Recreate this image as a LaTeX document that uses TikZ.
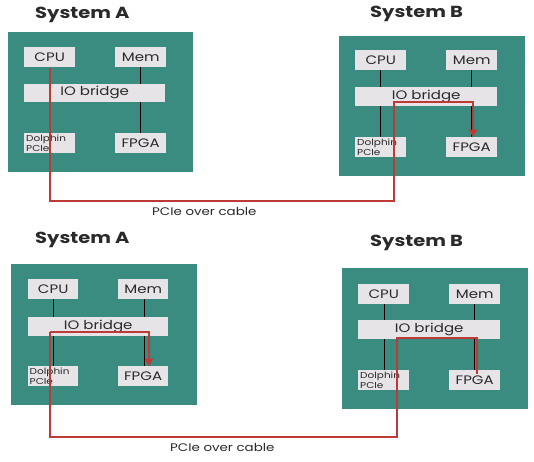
\documentclass[tikz,border=0pt]{standalone}
\usepackage{fontspec}
\setmainfont{Poppins}[FakeStretch=1.22]
\usetikzlibrary{arrows.meta}
\definecolor{sysgreen}{HTML}{3A8C80}
\definecolor{boxgray}{HTML}{E6E4E6}
\definecolor{cablered}{HTML}{BE3A36}
\definecolor{txt}{HTML}{2A2A2A}
\tikzset{
  sysbox/.style={fill=sysgreen, draw=none, inner sep=0pt, anchor=north west, minimum width=#1},
  sysbox/.default=185pt,
  part/.style={fill=boxgray, draw=none, inner sep=0pt, anchor=north west, text=txt,
    font=\fontsize{12.3}{13}\selectfont, minimum height=20pt},
  small/.style={part, minimum width=51pt},
  bridge/.style={part, minimum width=141pt, minimum height=18.5pt},
  dolphin/.style={part, minimum width=51pt, text width=47pt, align=left,
    font=\fontsize{8.6}{9.5}\selectfont},
  title/.style={font=\fontsize{16}{18}\selectfont\bfseries, text=txt, anchor=west, inner sep=0pt},
  cablelabel/.style={font=\fontsize{11}{12}\selectfont, text=txt, anchor=west, inner sep=0pt},
  bus/.style={draw=black, line width=0.8pt},
  cable/.style={draw=cablered, line width=2.3pt},
  tip/.style={-{Triangle[length=8pt,width=8pt]}}
}
\begin{document}
\begin{tikzpicture}[x=1pt,y=-1pt]
\useasboundingbox[fill=white] (0,0) rectangle (534,461);

% ---------- top System A ----------
\node[title] (tAt) at (35,15) {System A};
\node[sysbox, minimum height=140pt] (tA) at (8,32) {};
\node[small] (tAcpu) at (24,47) {CPU};
\node[small] (tAmem) at (115,47) {Mem};
\node[bridge] (tAbr) at (24,83.5) {IO bridge};
\node[dolphin] (tAdol) at (24,133) {Dolphin\\PCIe};
\node[small] (tAfpga) at (115,133) {FPGA};
\draw[bus] (tAmem.south) -- (tAbr.north -| tAmem.south);
\draw[bus] (tAbr.south -| tAfpga.north) -- (tAfpga.north);

% ---------- top System B ----------
\node[title] (tBt) at (370,14) {System B};
\node[sysbox, minimum height=140pt, minimum width=186pt] (tB) at (339,36) {};
\node[small] (tBcpu) at (355,50) {CPU};
\node[small] (tBmem) at (446,50) {Mem};
\node[bridge, minimum width=142pt] (tBbr) at (355,87) {IO bridge};
\node[dolphin] (tBdol) at (355,137) {Dolphin\\PCIe};
\node[small] (tBfpga) at (446,137) {FPGA};
\draw[bus] (tBcpu.south) -- (tBbr.north -| tBcpu.south);
\draw[bus] (tBmem.south) -- (tBbr.north -| tBmem.south);
\draw[bus] (tBbr.south -| tBdol.north) -- (tBdol.north);
\draw[bus] (tBbr.south -| tBfpga.north) -- (tBfpga.north);

% top cable
\coordinate (tc1) at (394,201);
\coordinate (tc2) at (473,102);
\coordinate (tctip) at (473,137.5);
\draw[cable, tip] ([yshift=-1pt]tAcpu.south) |- (tc1) |- (tc2) -- (tctip);
\node[cablelabel] (tlab) at (152,211) {PCIe over cable};

% ---------- bottom System A ----------
\node[title] (bAt) at (35,240) {System A};
\node[sysbox, minimum height=141pt, minimum width=186pt] (bA) at (11,264) {};
\node[small, minimum width=50pt] (bAcpu) at (28,279) {CPU};
\node[small, minimum width=50pt] (bAmem) at (118,279) {Mem};
\node[bridge, minimum width=140pt] (bAbr) at (28,317) {IO bridge};
\node[dolphin, minimum width=50pt] (bAdol) at (28,366) {Dolphin\\PCIe};
\node[small, minimum width=50pt] (bAfpga) at (118,366) {FPGA};
\coordinate (bAx1) at (53,0);
\coordinate (bAx2) at (144,0);
\draw[bus] (bAcpu.south -| bAx1) -- (bAbr.north -| bAx1);
\draw[bus] (bAmem.south -| bAx2) -- (bAbr.north -| bAx2);
\draw[bus] (bAbr.south -| bAx1) -- (bAdol.north -| bAx1);
\draw[bus] (bAbr.south -| bAx2) -- (bAfpga.north -| bAx2);

% ---------- bottom System B ----------
\node[title] (bBt) at (370,243) {System B};
\node[sysbox, minimum height=141pt, minimum width=186pt] (bB) at (342,268) {};
\node[small] (bBcpu) at (358,284) {CPU};
\node[small] (bBmem) at (449,284) {Mem};
\node[bridge, minimum width=142pt] (bBbr) at (358,320) {IO bridge};
\node[dolphin] (bBdol) at (358,370) {Dolphin\\PCIe};
\node[small] (bBfpga) at (449,370) {FPGA};
\coordinate (bBx1) at (384,0);
\coordinate (bBx2) at (474,0);
\draw[bus] (bBcpu.south -| bBx1) -- (bBbr.north -| bBx1);
\draw[bus] (bBmem.south -| bBx2) -- (bBbr.north -| bBx2);
\draw[bus] (bBbr.south -| bBx1) -- (bBdol.north -| bBx1);
\draw[bus] (bBbr.south -| bBx2) -- (bBfpga.north -| bBx2);

% bottom cable
\coordinate (btip) at (149,366.5);
\coordinate (bstart) at (50,332);
\coordinate (bc1) at (397,437);
\coordinate (bc2) at (477,338);
\coordinate (bend) at (477,374);
\draw[cable, tip] (bstart) -| (btip);
\draw[cable] (bstart) |- (bc1) |- (bc2) -- (bend);
\node[cablelabel] (blab) at (170,447) {PCIe over cable};
\end{tikzpicture}
\end{document}
